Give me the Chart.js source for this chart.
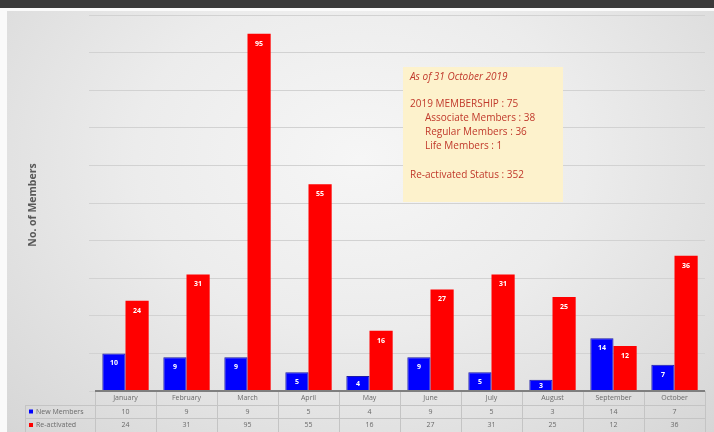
<!DOCTYPE html>
<html>
<head>
<meta charset="utf-8">
<script src="https://cdn.jsdelivr.net/npm/chart.js@4.4.0/dist/chart.umd.min.js"></script>
<style>
  html, body { margin: 0; padding: 0; }
  body { width: 714px; height: 432px; background: #3a3a3a; position: relative; overflow: hidden; }
  #white { position: absolute; left: 0; top: 8px; width: 714px; height: 424px; background: #fafafa; }
  #panel { position: absolute; left: 7px; top: 11px; width: 707px; height: 421px;
    background: radial-gradient(ellipse at 50% 35%, #f6f6f6 0%, #ececec 45%, #d6d6d6 100%); }
  #wrap { position: absolute; left: 0; top: 0; width: 714px; height: 432px; }
</style>
</head>
<body>
<div id="white"></div>
<div id="panel"></div>
<div id="wrap"><canvas id="chart" width="714" height="432"></canvas></div>
<script>
const months = ["January", "February", "March", "April", "May", "June", "July", "August", "September", "October"];
const newMembers = [10, 9, 9, 5, 4, 9, 5, 3, 14, 7];
const reactivated = [24, 31, 95, 55, 16, 27, 31, 25, 12, 36];
const yTicks = [0, 10, 20, 30, 40, 50, 60, 70, 80, 90, 100];
const yTitle = "No. of Members";
const noteLines = [
  { text: "As of 31 October 2019", italic: true, indent: 0, gap: 0 },
  { text: "2019 MEMBERSHIP : 75", indent: 0, gap: 27 },
  { text: "Associate Members : 38", indent: 15, gap: 14 },
  { text: "Regular Members : 36", indent: 15, gap: 14 },
  { text: "Life Members : 1", indent: 15, gap: 14 },
  { text: "Re-activated Status : 352", indent: 0, gap: 29 }
];

const FONT = "'Open Sans', 'Noto Sans', sans-serif";

const extras = {
  id: 'extras',
  afterDatasetsDraw(chart) {
    const ctx = chart.ctx;
    // value labels inside bars
    ctx.save();
    ctx.fillStyle = '#ffffff';
    ctx.font = "bold 7px " + FONT;
    ctx.textAlign = 'center';
    ctx.textBaseline = 'middle';
    chart.data.datasets.forEach((ds, di) => {
      chart.getDatasetMeta(di).data.forEach((bar, i) => {
        const ly = Math.min(bar.y + 10, (bar.y + bar.base) / 2 + 1);
        ctx.fillText(ds.data[i], bar.x, ly);
      });
    });
    ctx.restore();
  },
  afterDraw(chart) {
    const ctx = chart.ctx;
    const x = chart.scales.x;
    const area = chart.chartArea;
    const step = (area.right - area.left) / months.length;
    ctx.save();

    // y axis title
    ctx.translate(33, 205);
    ctx.rotate(-Math.PI / 2);
    ctx.fillStyle = '#595959';
    ctx.font = "bold 10.5px " + FONT;
    ctx.textAlign = 'center';
    ctx.textBaseline = 'middle';
    ctx.fillText(yTitle, 0, 0);
    ctx.setTransform(1, 0, 0, 1, 0, 0);

    // data table
    const top = area.bottom;
    const rows = [top, top + 14, top + 27, top + 41];
    ctx.strokeStyle = '#c4c4c4';
    ctx.lineWidth = 1;
    ctx.beginPath();
    for (let i = 0; i <= months.length; i++) {
      const px = Math.round(area.left + i * step) + 0.5;
      ctx.moveTo(px, top);
      ctx.lineTo(px, rows[3]);
    }
    ctx.moveTo(25.5, rows[1]); ctx.lineTo(25.5, rows[3]);
    ctx.moveTo(25, rows[1] + 0.5); ctx.lineTo(area.right, rows[1] + 0.5);
    ctx.moveTo(25, rows[2] + 0.5); ctx.lineTo(area.right, rows[2] + 0.5);
    ctx.stroke();

    ctx.fillStyle = '#6a6a6a';
    ctx.font = "7px " + FONT;
    ctx.textAlign = 'center';
    ctx.textBaseline = 'middle';
    months.forEach((m, i) => {
      const cx = x.getPixelForValue(i);
      ctx.fillText(m, cx, (rows[0] + rows[1]) / 2);
      ctx.fillText(newMembers[i], cx, (rows[1] + rows[2]) / 2);
      ctx.fillText(reactivated[i], cx, (rows[2] + rows[3]) / 2);
    });
    ctx.textAlign = 'left';
    chart.data.datasets.forEach((ds, di) => {
      const cy = (rows[di + 1] + rows[di + 2]) / 2;
      ctx.fillStyle = ds.backgroundColor;
      ctx.fillRect(29, cy - 2, 4, 4);
      ctx.fillStyle = '#6a6a6a';
      ctx.fillText(ds.label, 36, cy);
    });

    // baseline
    ctx.strokeStyle = '#7f7f7f';
    ctx.lineWidth = 2;
    ctx.beginPath();
    ctx.moveTo(area.left, top);
    ctx.lineTo(area.right, top);
    ctx.stroke();

    // note box
    const bx = 403, by = 67, bw = 160, bh = 135;
    ctx.fillStyle = '#fdf2cc';
    ctx.fillRect(bx, by, bw, bh);
    ctx.fillStyle = '#c0392b';
    ctx.textBaseline = 'middle';
    let ty = by + 10;
    noteLines.forEach(l => {
      ty += l.gap;
      ctx.font = (l.italic ? "italic " : "") + "10px " + FONT;
      ctx.fillText(l.text, bx + 7 + l.indent, ty);
    });
    ctx.restore();
  }
};

new Chart(document.getElementById('chart'), {
  type: 'bar',
  data: {
    labels: months,
    datasets: [
      { label: 'New Members', data: newMembers, backgroundColor: '#0000ff', borderColor: '#1a1aa8', borderWidth: 1 },
      { label: 'Re-activated', data: reactivated, backgroundColor: '#ff0000', borderColor: '#e00000', borderWidth: 0 }
    ]
  },
  options: {
    responsive: false,
    animation: false,
    events: [],
    layout: { padding: { left: 95, right: 9, top: 15, bottom: 41 } },
    datasets: { bar: { categoryPercentage: 0.76, barPercentage: 1.0 } },
    plugins: { legend: { display: false }, tooltip: { enabled: false } },
    scales: {
      x: {
        display: true,
        afterFit: axis => { axis.height = 0; },
        ticks: { display: false },
        grid: { display: false },
        border: { display: false }
      },
      y: {
        min: yTicks[0],
        max: yTicks[yTicks.length - 1],
        afterBuildTicks: axis => { axis.ticks = yTicks.map(v => ({ value: v })); },
        afterFit: axis => { axis.width = 0; },
        ticks: { display: false },
        grid: { color: '#d2d2d2', lineWidth: 1, tickLength: 6, drawTicks: true },
        border: { display: false }
      }
    }
  },
  plugins: [extras]
});
</script>
</body>
</html>
